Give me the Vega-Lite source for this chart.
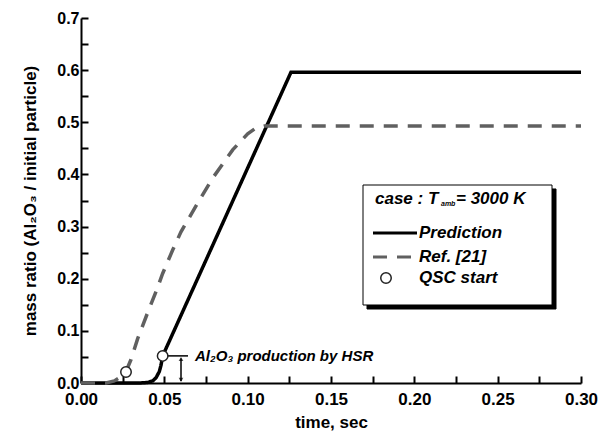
{
  "$schema": "https://vega.github.io/schema/vega-lite/v6.json",
  "width": 500,
  "height": 365,
  "autosize": "none",
  "padding": {"left": 81, "top": 18, "right": 22, "bottom": 58},
  "background": "white",
  "config": {
    "view": {"stroke": null},
    "axis": {"grid": false, "labelColor": "black", "titleColor": "black", "domainColor": "black", "tickColor": "black", "labelFlush": false, "labelOverlap": false, "labelBound": false}
  },
  "datasets": {
    "curves": [
      {"series": "Prediction", "t": 0.0, "v": 0.0},
      {"series": "Prediction", "t": 0.035, "v": 0.0},
      {"series": "Prediction", "t": 0.040, "v": 0.001},
      {"series": "Prediction", "t": 0.043, "v": 0.004},
      {"series": "Prediction", "t": 0.045, "v": 0.010},
      {"series": "Prediction", "t": 0.047, "v": 0.022},
      {"series": "Prediction", "t": 0.048, "v": 0.034},
      {"series": "Prediction", "t": 0.049, "v": 0.052},
      {"series": "Prediction", "t": 0.126, "v": 0.596},
      {"series": "Prediction", "t": 0.300, "v": 0.596},
      {"series": "Ref", "t": 0.0, "v": 0.0},
      {"series": "Ref", "t": 0.015, "v": 0.0},
      {"series": "Ref", "t": 0.020, "v": 0.004},
      {"series": "Ref", "t": 0.024, "v": 0.012},
      {"series": "Ref", "t": 0.027, "v": 0.022},
      {"series": "Ref", "t": 0.030, "v": 0.045},
      {"series": "Ref", "t": 0.034, "v": 0.085},
      {"series": "Ref", "t": 0.040, "v": 0.135},
      {"series": "Ref", "t": 0.045, "v": 0.175},
      {"series": "Ref", "t": 0.049, "v": 0.210},
      {"series": "Ref", "t": 0.055, "v": 0.255},
      {"series": "Ref", "t": 0.060, "v": 0.290},
      {"series": "Ref", "t": 0.070, "v": 0.345},
      {"series": "Ref", "t": 0.079, "v": 0.393},
      {"series": "Ref", "t": 0.091, "v": 0.447},
      {"series": "Ref", "t": 0.100, "v": 0.478},
      {"series": "Ref", "t": 0.105, "v": 0.489},
      {"series": "Ref", "t": 0.110, "v": 0.493},
      {"series": "Ref", "t": 0.300, "v": 0.493}
    ],
    "markers": [
      {"series": "Prediction", "t": 0.049, "v": 0.052},
      {"series": "Ref", "t": 0.027, "v": 0.021},
      {"series": "Legend", "t": 0.183, "v": 0.2014}
    ],
    "legendBox": [
      {"part": "shadow", "t": 0.1716, "t2": 0.2850, "v": 0.3721, "v2": 0.1419},
      {"part": "box", "t": 0.1692, "t2": 0.2826, "v": 0.3797, "v2": 0.1496}
    ],
    "legendLines": [
      {"series": "Prediction", "t": 0.1752, "v": 0.2877},
      {"series": "Prediction", "t": 0.2016, "v": 0.2877},
      {"series": "Ref", "t": 0.1752, "v": 0.2416},
      {"series": "Ref", "t": 0.2016, "v": 0.2416}
    ],
    "legendText": [
      {"label": "case : T", "t": 0.1764, "v": 0.3529, "fs": 17},
      {"label": "amb", "t": 0.2160, "v": 0.3433, "fs": 7},
      {"label": "= 3000 K", "t": 0.2250, "v": 0.3529, "fs": 17},
      {"label": "Prediction", "t": 0.2028, "v": 0.2877, "fs": 17},
      {"label": "Ref. [21]", "t": 0.2028, "v": 0.2416, "fs": 17},
      {"label": "QSC start", "t": 0.2028, "v": 0.2014, "fs": 17},
      {"label": "Al₂O₃ production by HSR", "t": 0.0684, "v": 0.052, "fs": 15}
    ],
    "annoLines": [
      {"t": 0.0504, "t2": 0.0642, "v": 0.052, "v2": 0.052},
      {"t": 0.0600, "t2": 0.0600, "v": 0.004, "v2": 0.047}
    ],
    "arrowHeads": [
      {"t": 0.0600, "v": 0.046, "shape": "triangle-up"},
      {"t": 0.0600, "v": 0.006, "shape": "triangle-down"}
    ]
  },
  "encoding": {
    "x": {"field": "t", "type": "quantitative", "scale": {"domain": [0, 0.3], "nice": false, "zero": false},
      "axis": {"orient": "bottom", "values": [0, 0.025, 0.05, 0.075, 0.1, 0.125, 0.15, 0.175, 0.2, 0.225, 0.25, 0.275, 0.3],
        "labelExpr": "round(datum.value * 40) % 2 == 1 ? '' : format(datum.value, '.2f')",
        "tickSize": -7, "tickWidth": 2, "domainWidth": 2,
        "labelFont": "Liberation Sans", "labelFontSize": 17, "labelFontWeight": "bold", "labelPadding": 15,
        "title": "time, sec", "titleFont": "Liberation Sans", "titleFontSize": 17, "titleFontWeight": "bold", "titlePadding": 7}},
    "y": {"field": "v", "type": "quantitative", "scale": {"domain": [0, 0.7], "nice": false, "zero": false},
      "axis": {"orient": "left", "values": [0, 0.05, 0.1, 0.15, 0.2, 0.25, 0.3, 0.35, 0.4, 0.45, 0.5, 0.55, 0.6, 0.65, 0.7],
        "labelExpr": "round(datum.value * 20) % 2 == 1 ? '' : format(datum.value, '.1f')",
        "tickSize": -7, "tickWidth": 2, "domainWidth": 2,
        "labelFont": "Liberation Sans", "labelFontSize": 16, "labelFontWeight": "bold", "labelPadding": 9,
        "title": "mass ratio (Al₂O₃ / initial particle)", "titleFont": "Liberation Sans", "titleFontSize": 17, "titleFontWeight": "bold", "titlePadding": 17}}
  },
  "layer": [
    {
      "data": {"name": "curves"},
      "mark": {"type": "line", "strokeWidth": 3.5},
      "encoding": {
        "color": {"field": "series", "type": "nominal", "scale": {"domain": ["Prediction", "Ref"], "range": ["#000000", "#606060"]}, "legend": null},
        "strokeDash": {"field": "series", "type": "nominal", "scale": {"domain": ["Prediction", "Ref"], "range": [[1, 0], [14, 10]]}, "legend": null}
      }
    },
    {
      "data": {"name": "legendBox"},
      "mark": {"type": "rect", "stroke": "black", "strokeWidth": 1},
      "encoding": {
        "x2": {"field": "t2"},
        "y2": {"field": "v2"},
        "fill": {"field": "part", "type": "nominal", "scale": {"domain": ["shadow", "box"], "range": ["#000000", "#ffffff"]}, "legend": null}
      }
    },
    {
      "data": {"name": "legendLines"},
      "mark": {"type": "line", "strokeWidth": 3},
      "encoding": {
        "color": {"field": "series", "type": "nominal", "legend": null},
        "strokeDash": {"field": "series", "type": "nominal", "legend": null}
      }
    },
    {
      "data": {"name": "annoLines"},
      "mark": {"type": "rule", "color": "black", "strokeWidth": 1.5},
      "encoding": {
        "x2": {"field": "t2"},
        "y2": {"field": "v2"}
      }
    },
    {
      "data": {"name": "arrowHeads"},
      "mark": {"type": "point", "filled": true, "color": "black", "size": 22},
      "encoding": {
        "shape": {"field": "shape", "type": "nominal", "scale": null}
      }
    },
    {
      "data": {"name": "markers"},
      "mark": {"type": "point", "shape": "circle", "filled": true, "fill": "white", "stroke": "#222222", "strokeWidth": 1.5, "size": 110, "opacity": 1},
      "encoding": {}
    },
    {
      "data": {"name": "legendText"},
      "mark": {"type": "text", "align": "left", "baseline": "middle", "font": "Liberation Sans", "fontWeight": "bold", "fontStyle": "italic", "color": "black"},
      "encoding": {
        "text": {"field": "label"},
        "size": {"field": "fs", "type": "quantitative", "scale": null}
      }
    }
  ]
}
